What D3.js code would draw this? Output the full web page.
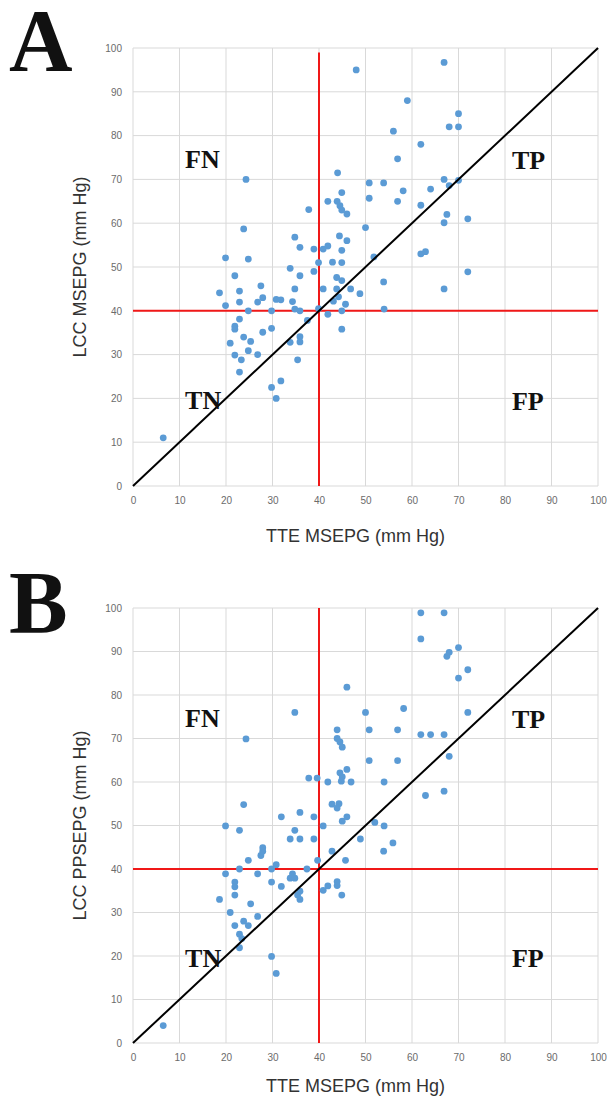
<!DOCTYPE html>
<html>
<head>
<meta charset="utf-8">
<script src="https://cdn.jsdelivr.net/npm/d3@7"></script>
<style>
  body { margin: 0; background: #fff; }
  svg { display: block; }
</style>
</head>
<body>
<svg id="chart" width="607" height="1099"></svg>
<script>
// values, [TTE, LCC] in mm Hg
var pointsA = [
  [6.5,11],[18.6,44.1],[19.9,52.1],[19.9,41.2],[20.9,32.6],[21.9,48],[21.9,36.5],[21.9,35.8],
  [21.9,29.9],[22.9,44.5],[22.9,42],[22.9,38.1],[22.9,26],[23.3,28.8],[23.8,34],[23.8,58.7],
  [24.3,70],[24.8,51.8],[24.8,40],[24.8,30.9],[25.3,33],[26.8,42],[26.8,30],[27.5,45.7],
  [27.9,43],[27.9,35.1],[29.8,40],[29.8,36],[29.8,22.5],[30.8,42.6],[30.8,20],[31.8,42.5],
  [31.8,24],[33.8,49.7],[33.8,32.8],[34.3,42.1],[34.8,56.8],[34.8,45],[34.8,40.4],[35.4,28.8],
  [35.9,54.5],[35.9,48],[35.9,40],[35.9,34.1],[35.9,32.9],[37.5,37.8],[37.8,63.1],[38.9,54.1],
  [38.9,49],[39.9,51],[39.9,40.5],[40.9,54.1],[41.9,54.8],[40.9,45],[41.9,39.2],[42.9,51.1],
  [43.1,42.2],[41.9,65],[43.9,65],[43.8,47.6],[43.8,45],[44,71.5],[44.2,43.2],[44.4,57.1],
  [44.5,64],[44.9,67],[44.9,63],[44.9,53.8],[44.9,51],[44.9,46.9],[44.9,40],[44.9,35.8],
  [45.7,41.5],[46,62.1],[46,56],[46.8,45],[48,95],[48.8,43.9],[50,59],[50.8,69.2],
  [50.8,65.7],[51.8,52.3],[53.9,69.2],[53.9,46.6],[54,40.4],[56,81],[56.9,74.7],[56.9,65],
  [58.1,67.4],[59,88],[61.9,78],[61.9,64.1],[61.9,53],[62.9,53.5],[64,67.8],[66.9,96.7],
  [66.9,70],[66.9,60.1],[66.9,45],[67.5,62],[68,82],[68,68.6],[70,85],[70,82],
  [70,69.8],[72,61],[72,48.9]
];
var pointsB = [
  [6.5,4],[18.6,33],[19.9,49.9],[19.9,38.9],[20.9,30],[21.9,37],[21.9,35.9],[21.9,34],
  [21.9,27],[22.9,48.9],[22.9,40],[22.9,25],[22.9,21.9],[23.4,24],[23.8,28],[23.8,54.8],
  [24.3,69.9],[24.8,42],[24.8,27],[25.3,32],[26.8,38.9],[26.8,29.1],[27.5,43.1],[27.9,44.1],
  [27.9,44.9],[29.8,40],[29.8,37],[29.8,19.9],[30.8,41],[30.8,16],[31.9,52],[31.9,36],
  [33.8,46.9],[33.8,37.9],[34.3,38.9],[34.8,37.9],[34.8,48.9],[34.8,76],[35.4,34],[35.9,53],
  [35.9,46.9],[35.9,34.9],[35.9,33],[37.4,40],[37.8,60.9],[38.9,52],[38.9,46.9],[39.6,60.9],
  [39.7,42],[40.9,49.9],[40.9,35.1],[41.9,60],[41.9,36.1],[42.8,54.9],[42.8,44.1],[43.9,72],
  [43.9,70],[44.3,55],[43.9,37.1],[43.9,36.2],[43.9,54],[44.5,69.2],[44.5,62.1],[45,68],
  [45,61.2],[44.8,60.2],[45,51],[44.9,34],[45.7,42],[46,81.8],[46,62.9],[46,52],
  [46.9,60],[48.9,46.9],[50,76],[50.8,72],[50.8,64.9],[52,50.7],[53.9,44.1],[54,60],
  [54,49.9],[55.9,46],[56.9,72],[56.9,64.9],[58.2,76.9],[61.9,98.9],[61.9,92.9],[61.9,70.9],
  [62.9,56.9],[64,70.9],[66.9,98.9],[66.9,70.9],[66.9,57.9],[67.5,88.9],[68,89.8],[68,65.9],
  [70,90.9],[70,83.9],[72,85.8],[72,76]
];
var ticks = [0, 10, 20, 30, 40, 50, 60, 70, 80, 90, 100];
var cutoff = 40;
// quadrant labels, anchor in data units (left, baseline)
var quadrants = [
  {name: "FN", x: 11.2, y: 72.6},
  {name: "TP", x: 81.5, y: 72.3},
  {name: "TN", x: 11.2, y: 17.5},
  {name: "FP", x: 81.5, y: 17.4}
];

var svg = d3.select("#chart");

function drawPanel(opt) {
    var w = 465, h = opt.h;
    var g = svg.append("g").attr("transform", "translate(" + opt.left + "," + opt.top + ")");
    var x = d3.scaleLinear().domain([0, 100]).range([0, w]);
    var y = d3.scaleLinear().domain([0, 100]).range([h, 0]);

    // grid
    g.append("g").selectAll("line.v").data(ticks).join("line")
        .attr("x1", d => x(d)).attr("x2", d => x(d))
        .attr("y1", 0).attr("y2", h)
        .attr("stroke", "#d9d9d9").attr("stroke-width", 1);
    g.append("g").selectAll("line.h").data(ticks).join("line")
        .attr("x1", 0).attr("x2", w)
        .attr("y1", d => y(d)).attr("y2", d => y(d))
        .attr("stroke", "#d9d9d9").attr("stroke-width", 1);

    // axes: labels only, the grid does the lines
    var xAxis = g.append("g").attr("transform", "translate(0," + h + ")")
        .call(d3.axisBottom(x).tickValues(ticks).tickSize(0).tickPadding(11));
    var yAxis = g.append("g")
        .call(d3.axisLeft(y).tickValues(ticks).tickSize(0).tickPadding(11));
    [xAxis, yAxis].forEach(function(a) {
        a.select(".domain").remove();
        a.selectAll("text").attr("fill", "#6b6b6b")
            .style("font-family", "'Liberation Sans', Arial, sans-serif")
            .style("font-size", "10px");
    });

    // cut-off lines
    g.append("line").attr("x1", x(cutoff)).attr("x2", x(cutoff))
        .attr("y1", y(opt.vTop)).attr("y2", y(0))
        .attr("stroke", "#f01818").attr("stroke-width", 2);
    g.append("line").attr("x1", x(0)).attr("x2", x(100))
        .attr("y1", y(cutoff)).attr("y2", y(cutoff))
        .attr("stroke", "#f01818").attr("stroke-width", 2);

    // points
    g.append("g").selectAll("circle").data(opt.points).join("circle")
        .attr("cx", d => x(d[0])).attr("cy", d => y(d[1]))
        .attr("r", 3.4).attr("fill", "#5b9bd5");

    // identity line
    g.append("line").attr("x1", x(0)).attr("y1", y(0))
        .attr("x2", x(100)).attr("y2", y(100))
        .attr("stroke", "#000").attr("stroke-width", 2);

    g.selectAll("text.q").data(quadrants).join("text")
        .attr("class", "q")
        .attr("x", d => x(d.x)).attr("y", d => y(d.y))
        .attr("fill", "#111")
        .style("font-family", "'Liberation Serif', 'Times New Roman', serif")
        .style("font-weight", "bold").style("font-size", "26px")
        .text(d => d.name);

    // titles
    g.append("text").attr("x", w / 2 - 10).attr("y", h + opt.xTitleDy)
        .attr("text-anchor", "middle").attr("fill", "#333")
        .style("font-family", "'Liberation Sans', Arial, sans-serif").style("font-size", "18px")
        .text("TTE MSEPG (mm Hg)");
    g.append("text")
        .attr("transform", "translate(" + (-47) + "," + (h / 2) + ") rotate(-90)")
        .attr("text-anchor", "middle").attr("fill", "#333")
        .style("font-family", "'Liberation Sans', Arial, sans-serif").style("font-size", "18px")
        .text(opt.yTitle);

    svg.append("text").attr("x", 9).attr("y", opt.letterY)
        .attr("fill", "#111")
        .style("font-family", "'Liberation Serif', 'Times New Roman', serif")
        .style("font-weight", "bold").style("font-size", "88px")
        .text(opt.letter);
}

drawPanel({letter: "A", letterY: 70, left: 133, top: 48, h: 438, vTop: 99,
    points: pointsA, yTitle: "LCC MSEPG (mm Hg)", xTitleDy: 56});
drawPanel({letter: "B", letterY: 632, left: 133, top: 608, h: 435, vTop: 100,
    points: pointsB, yTitle: "LCC PPSEPG (mm Hg)", xTitleDy: 49});
</script>
</body>
</html>
